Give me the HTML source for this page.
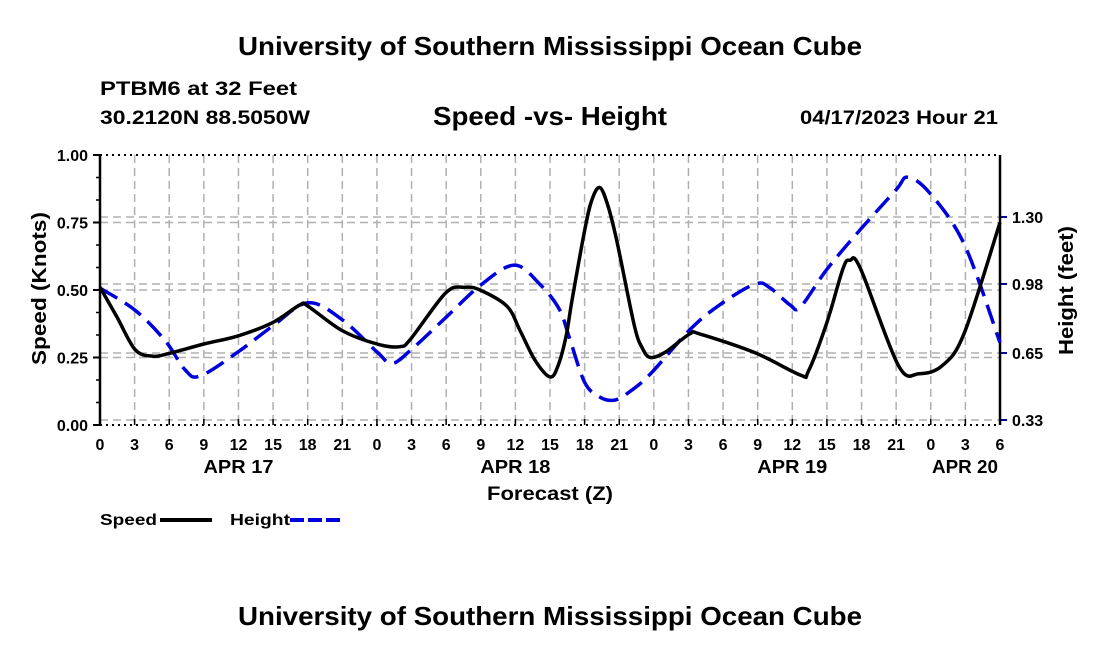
<!DOCTYPE html>
<html><head><meta charset="utf-8"><style>
body{margin:0;background:#fff;}
svg text{font-family:"Liberation Sans",Arial,sans-serif;font-weight:bold;fill:#000;}
</style></head><body>
<svg id="chart" width="1100" height="650" viewBox="0 0 1100 650">
<text x="238" y="55" font-size="26" textLength="624" lengthAdjust="spacingAndGlyphs">University of Southern Mississippi Ocean Cube</text>
<text x="100" y="95" font-size="19" textLength="197" lengthAdjust="spacingAndGlyphs">PTBM6 at 32 Feet</text>
<text x="100" y="124" font-size="19" textLength="210" lengthAdjust="spacingAndGlyphs">30.2120N  88.5050W</text>
<text x="433" y="125" font-size="26" textLength="234" lengthAdjust="spacingAndGlyphs">Speed -vs- Height</text>
<text x="800" y="124" font-size="19" textLength="198" lengthAdjust="spacingAndGlyphs">04/17/2023 Hour 21</text>
<g id="grid"></g>
<g id="axes"></g>
<g id="series"></g>
<text x="487" y="500" font-size="19" textLength="126" lengthAdjust="spacingAndGlyphs">Forecast (Z)</text>
<text transform="translate(46,365) rotate(-90)" font-size="20" textLength="153" lengthAdjust="spacingAndGlyphs">Speed (Knots)</text>
<text transform="translate(1073,355) rotate(-90)" font-size="20" textLength="129" lengthAdjust="spacingAndGlyphs">Height (feet)</text>
<g>
<text x="100" y="525" font-size="16" textLength="57" lengthAdjust="spacingAndGlyphs">Speed</text>
<line x1="160" y1="520" x2="212" y2="520" stroke="#000" stroke-width="4"/>
<text x="230" y="525" font-size="16" textLength="60" lengthAdjust="spacingAndGlyphs">Height</text>
<line x1="290" y1="520" x2="342" y2="520" stroke="#0000dd" stroke-width="4" stroke-dasharray="14,4"/>
</g>
<text x="238" y="625" font-size="26" textLength="624" lengthAdjust="spacingAndGlyphs">University of Southern Mississippi Ocean Cube</text>
</svg>
<script>
const speedHours=[0,1.47,3.03,4.51,5.98,9.01,11.96,14.99,17.33,18.03,20.97,24.01,26.0,26.95,29.98,31.63,32.93,35.27,36.4,37.7,39.0,39.7,40.4,40.9,42.0,42.6,43.3,44.0,44.8,46.3,47.0,47.7,49.0,51.1,52.0,56.8,60.7,61.4,63.0,64.4,65.0,65.9,69.2,71.0,73.0,74.9,78];
const speedValues=[0.51,0.40,0.28,0.255,0.265,0.30,0.33,0.38,0.445,0.44,0.35,0.30,0.29,0.32,0.49,0.51,0.50,0.44,0.35,0.24,0.178,0.22,0.33,0.46,0.72,0.83,0.88,0.815,0.68,0.37,0.285,0.25,0.27,0.337,0.337,0.267,0.185,0.20,0.38,0.58,0.61,0.58,0.22,0.19,0.22,0.34,0.75];
const heightHours=[0,3.03,5.63,7.37,8.67,11.96,14.99,18.03,20.97,24.01,25.3,26.95,29.98,33.0,35.9,38.1,39.8,40.7,42.0,43.3,44.6,45.9,47.7,51.1,53.7,56.8,58.1,59.8,60.7,63.0,65.9,69.0,70.0,71.9,74.9,78];
const heightValues=[0.96,0.855,0.71,0.57,0.54,0.655,0.78,0.89,0.81,0.655,0.60,0.665,0.82,0.975,1.07,0.98,0.86,0.72,0.51,0.44,0.425,0.465,0.55,0.76,0.88,0.98,0.96,0.88,0.87,1.05,1.24,1.43,1.49,1.415,1.17,0.70];
const xTickLabels=["0","3","6","9","12","15","18","21","0","3","6","9","12","15","18","21","0","3","6","9","12","15","18","21","0","3","6"];
const dayLabels=["APR 17","APR 18","APR 19","APR 20"];
const dayLabelHours=[12,36,60,78];
const leftTicks=[0,0.25,0.5,0.75,1.0];
const leftTickLabels=["0.00","0.25","0.50","0.75","1.00"];
const rightTicks=[0.33,0.65,0.98,1.30];
const rightTickLabels=["0.33","0.65","0.98","1.30"];

const X0=100,X1=1000,YT=155,YB=425;
const x=h=>X0+h/78*(X1-X0);
const yL=v=>YB-v*(YB-YT);
const yR=v=>420-(v-0.33)*209.3;
const NS="http://www.w3.org/2000/svg";
function mk(parent,tag,attrs){const e=document.createElementNS(NS,tag);for(const k in attrs)e.setAttribute(k,attrs[k]);parent.appendChild(e);return e;}
const grid=document.getElementById('grid'),axes=document.getElementById('axes'),series=document.getElementById('series');
const gs={stroke:"#b0b0b0","stroke-width":1.5,"stroke-dasharray":"8,5",fill:"none"};
xTickLabels.forEach((t,i)=>{const h=i*3,px=x(h);
 if(i>0&&i<26){const l=mk(grid,'line',Object.assign({x1:px,y1:YT,x2:px,y2:YB},gs));
 
 }
 const tk=mk(axes,'line',{x1:px,y1:YB,x2:px,y2:YB-6,stroke:"#000","stroke-width":1.5});
 
 
 const tx=mk(axes,'text',{x:px,y:450,"font-size":16,"text-anchor":"middle"});tx.textContent=t;
 
 
});
dayLabels.forEach((d,i)=>{const tx=mk(axes,'text',{x:i==3?x(dayLabelHours[i])-2:x(dayLabelHours[i]),y:473,"font-size":18,"text-anchor":i==3?"end":"middle",textLength:i==3?66:70,lengthAdjust:"spacingAndGlyphs"});tx.textContent=d;
 
 });
leftTicks.forEach((v,i)=>{const py=yL(v);
 if(v>0&&v<1){const l=mk(grid,'line',Object.assign({x1:X0,y1:py,x2:X1,y2:py},gs));
 
 }
 const tk=mk(axes,'line',{x1:X0-7,y1:py,x2:X0,y2:py,stroke:"#000","stroke-width":2});
 
 
 const tx=mk(axes,'text',{x:X0-12,y:py+6,"font-size":16,"text-anchor":"end"});tx.textContent=leftTickLabels[i];
 
 });
for(let k=1;k<12;k++){if(k%3==0)continue;const py=yL(k/12);
 const tk=mk(axes,'line',{x1:X0-4,y1:py,x2:X0,y2:py,stroke:"#000","stroke-width":1.5});
 
 }
rightTicks.forEach((v,i)=>{const py=yR(v);
 const l=mk(grid,'line',Object.assign({x1:X0,y1:py,x2:X1,y2:py},gs));
 
 
 const tk=mk(axes,'line',{x1:X1,y1:py,x2:X1+7,y2:py,stroke:"#0000aa","stroke-width":2});
 
 
 const tx=mk(axes,'text',{x:X1+12,y:py+6,"font-size":16});tx.textContent=rightTickLabels[i];
 
 });
[[X0,YT,X0,YB,"none"],[X1,YT,X1,YB,"none"],[X0,YT,X1,YT,"2,4"],[X0,YB,X1,YB,"2,4"]].forEach(a=>{
 const l=mk(axes,'line',{x1:a[0],y1:a[1],x2:a[2],y2:a[3],stroke:"#000","stroke-width":a[4]=="none"?2.5:2,"stroke-dasharray":a[4]});
 
 });
function path(hs,vs,fy){const p=hs.map((h,i)=>[x(h),fy(vs[i])]);let d="M"+p[0][0]+","+p[0][1];
 for(let i=0;i<p.length-1;i++){const p0=p[Math.max(0,i-1)],p1=p[i],p2=p[i+1],p3=p[Math.min(p.length-1,i+2)];
  d+=" C"+(p1[0]+(p2[0]-p0[0])/6)+","+(p1[1]+(p2[1]-p0[1])/6)+" "+(p2[0]-(p3[0]-p1[0])/6)+","+(p2[1]-(p3[1]-p1[1])/6)+" "+p2[0]+","+p2[1];}
 return d;}
const hp=mk(series,'path',{d:path(heightHours,heightValues,yR),stroke:"#0000dd","stroke-width":3.5,fill:"none","stroke-dasharray":"20,9"});


const sp=mk(series,'path',{d:path(speedHours,speedValues,yL),stroke:"#000","stroke-width":3.5,fill:"none"});


</script>
</body></html>
